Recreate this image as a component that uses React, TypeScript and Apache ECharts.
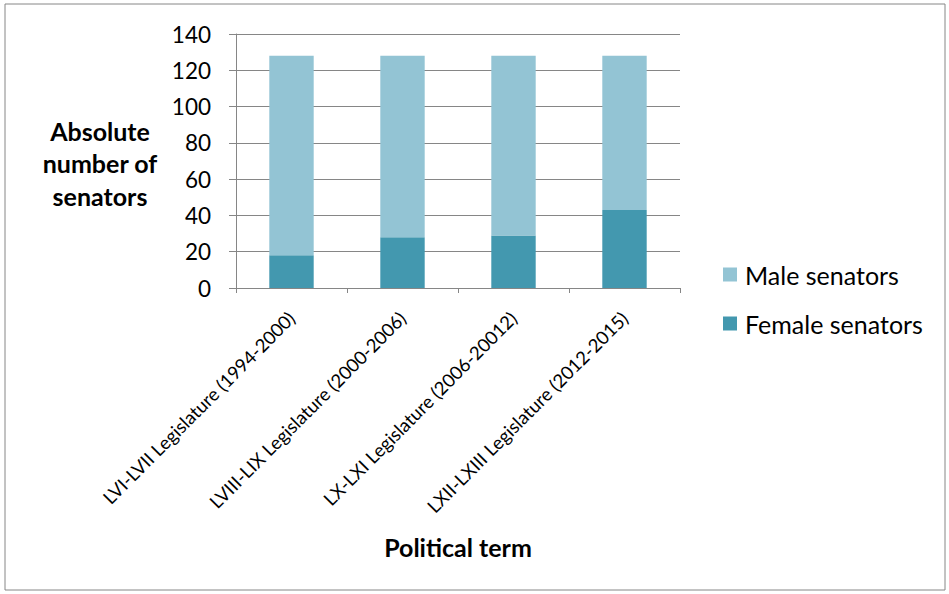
import React, { useEffect, useRef } from "react";
import * as echarts from "echarts";

const categories = [
  "LVI-LVII Legislature (1994-2000)",
  "LVIII-LIX Legislature (2000-2006)",
  "LX-LXI Legislature (2006-20012)",
  "LXII-LXIII Legislature (2012-2015)",
];
const femaleSenators = [18, 28, 29, 43];
const maleSenators = [110, 100, 99, 85];
const yTicks = { min: 0, max: 140, interval: 20 };

const FONT = "Lato, 'Noto Sans', sans-serif";
const GRAY = "#868686";

export default function App() {
  const ref = useRef<HTMLDivElement>(null);
  useEffect(() => {
    if (!ref.current) return;
    const chart = echarts.init(ref.current, undefined, { renderer: "svg" });
    chart.setOption({
      animation: false,
      backgroundColor: "#fff",
      textStyle: { fontFamily: FONT },
      grid: { left: 236, top: 34, right: 269, bottom: 306, containLabel: false },
      legend: {
        orient: "vertical",
        left: 723,
        top: 262,
        padding: 0,
        icon: "rect",
        itemWidth: 14,
        itemHeight: 14,
        itemGap: 24,
        data: ["Male senators", "Female senators"],
        textStyle: { fontSize: 25, lineHeight: 25, color: "#000", fontFamily: FONT, padding: [0, 0, 0, 3] },
      },
      xAxis: {
        type: "category",
        data: categories,
        axisLine: { lineStyle: { color: GRAY, width: 1 } },
        axisTick: { show: true, length: 5, lineStyle: { color: GRAY } },
        axisLabel: { rotate: 45, fontSize: 18.5, color: "#000", margin: 27, fontFamily: FONT, interval: 0 },
      },
      yAxis: {
        type: "value",
        min: yTicks.min,
        max: yTicks.max,
        interval: yTicks.interval,
        axisLine: { show: true, lineStyle: { color: GRAY, width: 1 } },
        axisTick: { show: true, length: 7, lineStyle: { color: GRAY } },
        axisLabel: { fontSize: 22.5, color: "#000", margin: 25, fontFamily: FONT },
        splitLine: { show: true, lineStyle: { color: GRAY, width: 1 } },
      },
      series: [
        {
          name: "Female senators",
          type: "bar",
          stack: "total",
          data: femaleSenators,
          barCategoryGap: "60%",
          itemStyle: { color: "#4398AF" },
        },
        {
          name: "Male senators",
          type: "bar",
          stack: "total",
          data: maleSenators,
          barCategoryGap: "60%",
          itemStyle: { color: "#93C4D4" },
        },
      ],
      graphic: [
        {
          type: "rect",
          shape: { x: 5, y: 4, width: 940, height: 586 },
          style: { fill: "none", stroke: GRAY, lineWidth: 1 },
          silent: true,
        },
        {
          type: "text",
          x: 100,
          y: 163,
          style: {
            text: "Absolute\nnumber of\nsenators",
            fontSize: 25,
            fontWeight: "bold",
            fontFamily: FONT,
            lineHeight: 32.5,
            fill: "#000",
            align: "center",
            verticalAlign: "middle",
          },
        },
        {
          type: "text",
          x: 458,
          y: 547,
          style: {
            text: "Political term",
            fontSize: 25,
            fontWeight: "bold",
            fontFamily: FONT,
            fill: "#000",
            align: "center",
            verticalAlign: "middle",
          },
        },
      ],
    });
    return () => chart.dispose();
  }, []);
  return (
    <div
      ref={ref}
      style={{ position: "fixed", left: 0, top: 0, width: 949, height: 594 }}
    />
  );
}
